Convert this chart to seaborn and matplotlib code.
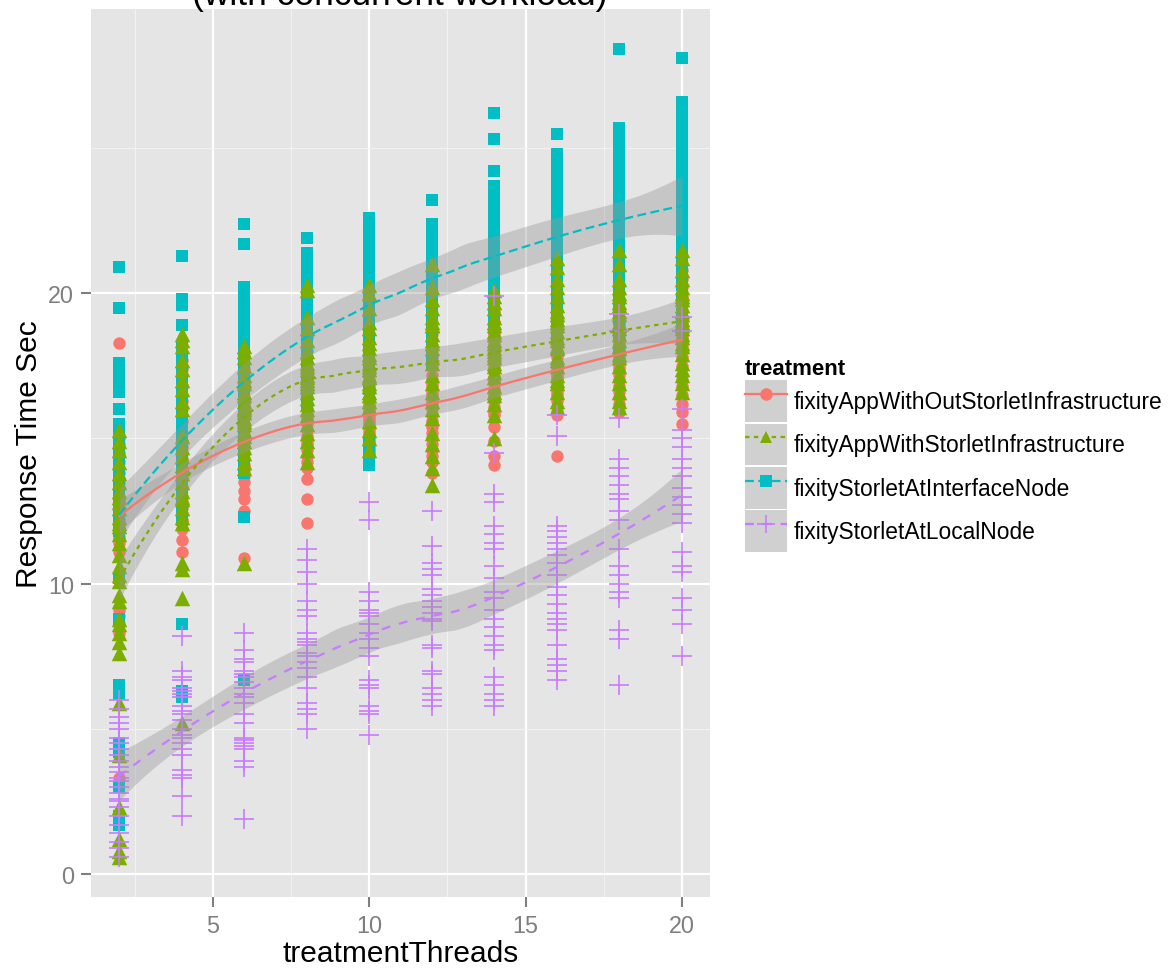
import numpy as np
import pandas as pd
import matplotlib
matplotlib.use("Agg")
import matplotlib.pyplot as plt
import seaborn as sns
from matplotlib.lines import Line2D
from matplotlib.patches import Patch

# x values (threads) and treatment names
threads = [2, 4, 6, 8, 10, 12, 14, 16, 18, 20]
treatments = [
    "fixityAppWithOutStorletInfrastructure",
    "fixityAppWithStorletInfrastructure",
    "fixityStorletAtInterfaceNode",
    "fixityStorletAtLocalNode",
]

# response times, one list per thread count
without_storlet = [
    [18.3, 15.0, 14.8, 14.5, 14.2, 13.8, 13.5, 13.3, 13.0, 12.8, 12.6, 12.4, 12.2,
     12.0, 11.9, 11.6, 11.4, 11.1, 12.9, 13.6, 9.1, 8.9, 8.6, 8.3, 3.3],
    [17.7, 17.4, 16.8, 16.3, 16.0, 15.6, 15.2, 14.9, 14.7, 14.5, 14.2, 14.0, 13.8,
     13.6, 13.3, 13.0, 12.8, 12.6, 12.4, 12.2, 11.9, 11.5, 11.1, 13.9, 14.3],
    [17.8, 17.4, 17.0, 16.7, 16.4, 16.2, 16.0, 15.8, 15.7, 15.5, 15.3, 15.1, 14.9,
     14.7, 14.5, 14.3, 14.1, 13.9, 13.7, 13.5, 13.2, 12.9, 12.5, 10.9, 16.9],
    [18.5, 18.0, 17.6, 17.3, 17.0, 16.8, 16.6, 16.4, 16.2, 16.0, 15.8, 15.7, 15.5,
     15.3, 15.1, 14.9, 14.8, 14.6, 14.4, 14.2, 14.0, 13.6, 12.9, 12.1, 16.9],
    [17.4, 17.2, 17.0, 16.8, 16.6, 16.4, 16.2, 16.0, 15.9, 15.8, 15.7, 15.6, 15.5,
     15.4, 15.3, 15.2, 15.1, 15.0, 14.9, 14.8, 14.7, 14.6, 14.5, 14.4, 16.1],
    [18.6, 18.2, 17.8, 17.5, 17.2, 17.0, 16.8, 16.6, 16.5, 16.4, 16.3, 16.2, 16.1,
     16.0, 15.8, 15.6, 15.4, 15.2, 15.0, 14.8, 14.6, 14.4, 14.2, 13.8, 16.9],
    [19.4, 19.0, 18.6, 18.3, 18.0, 17.8, 17.6, 17.5, 17.3, 17.1, 16.9, 16.7, 16.5,
     16.3, 16.1, 15.9, 15.8, 15.4, 14.9, 14.4, 14.1, 17.0, 16.6, 18.2, 16.4],
    [19.8, 19.4, 19.0, 18.7, 18.4, 18.2, 18.0, 17.8, 17.6, 17.4, 17.3, 17.1, 16.9,
     16.7, 16.5, 16.3, 16.1, 15.9, 15.8, 14.4, 17.5, 17.0, 18.5, 17.2, 16.6],
    [20.3, 20.0, 19.7, 19.4, 19.1, 18.9, 18.7, 18.5, 18.3, 18.1, 17.9, 17.8, 17.6,
     17.4, 17.2, 17.0, 16.8, 16.6, 16.4, 16.2, 15.9, 18.0, 18.4, 17.5, 19.0],
    [20.8, 20.5, 20.2, 19.9, 19.6, 19.4, 19.2, 19.0, 18.8, 18.6, 18.4, 18.2, 18.0,
     17.8, 17.5, 17.2, 17.0, 16.8, 16.5, 16.2, 15.9, 15.5, 19.8, 18.9, 18.5],
]

with_storlet = [
    [15.3, 14.2, 13.2, 12.8, 12.6, 12.1, 12.0, 11.4, 11.0, 10.6, 10.3, 10.1, 9.6,
     9.4, 8.8, 8.6, 8.3, 8.0, 7.6, 5.9, 4.1, 2.3, 1.2, 0.8, 0.6, 14.6, 13.8, 13.5,
     11.7, 12.3, 14.9, 13.0],
    [18.6, 18.4, 18.2, 17.7, 17.4, 17.0, 16.7, 16.3, 16.0, 15.1, 14.7, 14.1, 13.8,
     13.5, 13.2, 12.9, 12.6, 12.3, 12.1, 10.7, 10.5, 9.5, 5.2, 14.4, 13.0],
    [18.2, 18.0, 17.8, 17.5, 17.2, 16.9, 16.6, 16.3, 16.0, 15.7, 15.5, 15.3, 15.1,
     14.9, 14.7, 14.5, 14.2, 10.7, 16.1, 15.9, 16.5, 15.6, 17.0, 14.0, 15.2],
    [20.3, 20.1, 18.0, 17.8, 17.6, 17.4, 17.2, 17.0, 16.8, 16.6, 16.4, 16.2, 16.0,
     15.8, 15.5, 15.2, 14.9, 14.6, 14.2, 18.4, 18.8, 19.2, 17.5, 16.9, 17.1],
    [20.3, 20.0, 19.5, 18.8, 18.5, 18.1, 17.9, 17.6, 17.4, 17.1, 16.9, 16.6, 16.3,
     16.1, 15.6, 15.3, 15.0, 14.6, 17.8, 18.3, 17.2, 16.8, 19.0, 17.5, 16.5],
    [21.0, 19.5, 19.2, 18.9, 18.6, 18.3, 18.1, 17.8, 17.6, 17.2, 16.9, 16.6, 16.3,
     16.0, 15.7, 15.2, 14.8, 14.4, 14.0, 13.4, 19.8, 20.2, 18.4, 18.9, 19.0],
    [20.1, 19.9, 19.7, 19.5, 19.2, 18.9, 18.7, 18.4, 18.1, 17.8, 17.5, 17.1, 16.8,
     16.5, 16.2, 15.8, 15.0, 18.3, 18.6, 19.0, 17.9, 17.3, 18.0, 16.6, 17.6],
    [21.2, 20.9, 20.2, 19.9, 19.6, 19.3, 19.1, 18.7, 18.4, 18.1, 17.8, 17.5, 17.2,
     16.9, 16.6, 16.3, 16.1, 18.9, 19.0, 18.5, 18.2, 17.7, 20.5, 19.4, 17.0],
    [21.5, 21.0, 20.5, 20.2, 19.9, 19.6, 19.3, 18.9, 18.6, 18.1, 17.8, 17.5, 17.2,
     16.9, 16.6, 16.3, 16.1, 19.0, 18.8, 18.4, 20.0, 19.4, 18.2, 17.9, 19.7],
    [21.5, 21.2, 20.5, 20.2, 19.9, 19.6, 19.3, 19.1, 18.8, 18.5, 18.2, 17.9, 17.6,
     17.2, 16.9, 16.6, 20.8, 19.4, 18.9, 19.0, 18.6, 20.0, 17.4, 18.3, 19.8],
]

interface_node = [
    [20.9, 19.5, 17.6, 17.3, 17.0, 16.6, 16.0, 15.5, 15.2, 14.8, 14.4, 14.0, 13.6,
     13.2, 12.8, 12.4, 12.0, 11.8, 10.2, 8.8, 6.5, 6.2, 4.5, 4.2, 3.0, 2.0, 1.7,
     15.0, 14.6, 13.4, 12.6, 15.3, 14.2],
    [21.3, 19.8, 19.6, 18.9, 18.2, 17.9, 17.6, 17.3, 17.0, 16.7, 16.4, 16.1, 15.8,
     15.5, 15.2, 14.9, 14.6, 14.3, 14.0, 13.7, 13.4, 13.1, 12.8, 12.5, 12.2, 8.6,
     6.3, 6.1],
    [22.4, 21.7, 20.2, 19.9, 19.5, 19.2, 18.9, 18.6, 18.3, 18.0, 17.7, 17.4, 17.1,
     16.8, 16.5, 16.2, 15.9, 15.6, 15.3, 15.0, 14.7, 14.4, 14.1, 13.8, 12.3, 6.7,
     19.0, 18.2],
    [21.9, 21.4, 21.1, 20.8, 20.5, 20.2, 19.9, 19.5, 19.2, 18.8, 18.5, 18.2, 17.9,
     17.6, 17.3, 17.0, 16.7, 16.4, 16.2, 19.0, 18.0, 19.7, 20.0],
    [22.6, 22.3, 22.0, 21.7, 21.4, 21.1, 20.8, 20.5, 20.3, 20.0, 19.7, 19.4, 19.1,
     18.8, 18.5, 18.2, 17.9, 17.6, 17.3, 16.7, 14.8, 14.4, 14.1, 21.0, 20.6, 19.9],
    [23.2, 22.4, 22.1, 21.8, 21.5, 21.2, 20.9, 20.6, 20.3, 20.0, 19.7, 19.4, 19.1,
     18.8, 18.5, 18.2, 17.9, 17.6, 21.0, 20.5, 21.6, 22.0, 19.9],
    [26.2, 25.3, 24.2, 23.7, 23.3, 23.0, 22.7, 22.4, 22.1, 21.8, 21.5, 21.2, 20.9,
     20.6, 20.3, 20.0, 19.7, 19.4, 19.1, 18.8, 21.0, 22.0, 20.5],
    [25.5, 24.8, 24.4, 24.0, 23.6, 23.3, 23.0, 22.7, 22.4, 22.1, 21.8, 21.5, 21.2,
     20.9, 20.6, 20.3, 20.0, 19.7, 19.4, 19.1, 18.8, 18.5, 22.0, 21.0],
    [28.4, 25.7, 25.3, 24.9, 24.5, 24.1, 23.9, 23.6, 23.3, 23.0, 22.7, 22.4, 22.1,
     21.8, 21.5, 21.2, 20.9, 20.7, 20.3, 19.9, 19.5, 19.1, 18.6, 18.0, 22.9, 23.5],
    [28.1, 26.6, 26.3, 26.0, 25.6, 25.3, 24.9, 24.6, 24.3, 24.0, 23.7, 23.4, 23.1,
     22.8, 22.5, 22.2, 21.9, 21.6, 21.3, 21.0, 20.6, 20.3, 19.8, 19.3, 18.9],
]

local_node = [
    [6.0, 5.7, 5.4, 5.2, 5.0, 4.7, 4.5, 4.3, 4.1, 3.9, 3.7, 3.5, 3.3, 3.2, 3.0,
     2.8, 2.6, 2.5, 2.3, 2.0, 1.7, 1.4, 1.1, 0.9, 0.6],
    [8.2, 7.0, 6.8, 6.7, 6.4, 6.3, 6.2, 6.1, 5.8, 5.6, 5.5, 5.3, 5.0, 4.8, 4.7,
     4.5, 4.3, 4.1, 3.6, 3.4, 3.3, 2.7, 2.0],
    [8.3, 7.7, 7.4, 7.3, 7.0, 6.9, 6.8, 6.6, 6.4, 6.2, 6.1, 5.9, 5.5, 5.2, 4.7,
     4.6, 4.5, 4.4, 4.3, 3.9, 3.7, 1.9],
    [11.2, 10.8, 10.4, 10.0, 9.4, 9.1, 8.9, 8.3, 8.1, 7.9, 7.6, 7.3, 7.1, 6.8,
     6.4, 5.9, 5.7, 5.5, 5.0, 8.0, 7.5],
    [12.8, 12.2, 9.7, 9.4, 9.1, 8.9, 8.3, 8.1, 7.8, 7.5, 6.7, 6.5, 6.4, 5.8, 5.6,
     5.5, 4.8, 8.6, 9.0],
    [12.5, 11.3, 10.7, 10.5, 10.3, 9.8, 9.6, 9.4, 9.0, 8.8, 8.7, 7.9, 7.8, 7.0,
     6.9, 6.4, 6.2, 6.0, 5.8, 9.2],
    [19.9, 14.5, 13.1, 12.8, 12.0, 11.7, 11.4, 11.2, 10.6, 10.2, 9.7, 9.1, 8.8,
     8.5, 8.2, 7.9, 7.7, 6.8, 6.5, 6.2, 6.0, 5.8, 9.5],
    [15.8, 15.1, 12.0, 11.8, 11.6, 11.4, 11.2, 10.7, 9.9, 9.6, 9.3, 9.0, 8.8, 8.6,
     8.4, 7.9, 7.4, 7.2, 7.0, 6.7, 10.3, 11.0],
    [19.3, 18.7, 15.7, 14.3, 14.0, 13.7, 13.4, 13.1, 12.9, 12.2, 11.2, 10.6, 10.3,
     10.0, 9.7, 9.5, 8.4, 8.1, 6.5, 12.5],
    [19.2, 18.7, 16.0, 15.3, 15.0, 14.7, 14.3, 14.0, 13.7, 13.3, 13.0, 12.7, 12.4,
     12.1, 11.1, 10.6, 10.4, 9.5, 9.1, 8.6, 7.5],
]

palette = ["#F8766D", "#7CAE00", "#00BFC4", "#C77CFF"]
markers = ["o", "^", "s", "+"]
sizes = [80, 125, 75, 190]
dash_list = ["", (2, 2), (4, 2), (4, 4)]

# long table
rows = []
for name, series in zip(treatments, [without_storlet, with_storlet, interface_node, local_node]):
    for t, vals in zip(threads, series):
        for v in vals:
            rows.append((t, v, name))
data = pd.DataFrame(rows, columns=["treatmentThreads", "ResponseTimeSec", "treatment"])


# loess like ggplot (degree 2, span 0.75) with 95% band
def loess_rows(x, pts, span=0.75):
    n = len(x)
    q = int(np.floor(n * span))
    out = []
    for x0 in pts:
        d = np.abs(x - x0)
        h = np.sort(d)[q - 1]
        w = np.clip(1 - (d / h) ** 3, 0, None) ** 3
        X = np.column_stack([np.ones(n), x - x0, (x - x0) ** 2])
        XtW = X.T * w
        out.append(np.linalg.solve(XtW @ X, XtW)[0])
    return np.array(out)


grid = np.linspace(min(threads), max(threads), 80)
fits = []
for name in treatments:
    sub = data[data["treatment"] == name]
    x = sub["treatmentThreads"].to_numpy(float)
    y = sub["ResponseTimeSec"].to_numpy(float)
    L_data = loess_rows(x, x)
    resid = y - L_data @ y
    sigma2 = (resid ** 2).sum() / (len(y) - np.trace(L_data))
    L_grid = loess_rows(x, grid)
    fit = L_grid @ y
    se = np.sqrt(sigma2 * (L_grid ** 2).sum(axis=1))
    fits.append(pd.DataFrame({"x": grid, "fit": fit, "lo": fit - 1.97 * se,
                              "hi": fit + 1.97 * se, "treatment": name}))
fit_df = pd.concat(fits, ignore_index=True)

plt.rcParams["font.family"] = ["Liberation Sans", "DejaVu Sans"]

fig = plt.figure(figsize=(11.75, 9.7), dpi=100)
ax = fig.add_axes([91 / 1175, 1 - 898 / 970, 619 / 1175, 888 / 970])
ax.set_facecolor("#E5E5E5")

# points: drawn red, cyan, green, purple (as they stack in the picture)
for i in [0, 2, 1, 3]:
    sub = data[data["treatment"] == treatments[i]]
    if markers[i] == "+":
        sns.scatterplot(data=sub, x="treatmentThreads", y="ResponseTimeSec", ax=ax,
                        color=palette[i], marker="+", s=sizes[i], linewidth=1.2,
                        legend=False, zorder=3)
    else:
        sns.scatterplot(data=sub, x="treatmentThreads", y="ResponseTimeSec", ax=ax,
                        color=palette[i], marker=markers[i], s=sizes[i], linewidth=0,
                        legend=False, zorder=3)

# smooth bands and lines
for i, name in enumerate(treatments):
    f = fit_df[fit_df["treatment"] == name]
    ax.fill_between(f["x"], f["lo"], f["hi"], color="#999999", alpha=0.4,
                    linewidth=0, zorder=4)
sns.lineplot(data=fit_df, x="x", y="fit", hue="treatment", style="treatment",
             hue_order=treatments, style_order=treatments, palette=palette,
             dashes=dict(zip(treatments, dash_list)), linewidth=1.6, ax=ax,
             legend=False, zorder=5)

# ggplot style limits (5% expansion)
yall = data["ResponseTimeSec"]
xr = max(threads) - min(threads)
yr = yall.max() - yall.min()
ax.set_xlim(min(threads) - 0.05 * xr, max(threads) + 0.05 * xr)
ax.set_ylim(yall.min() - 0.05 * yr, yall.max() + 0.05 * yr)

ax.set_xticks([5, 10, 15, 20])
ax.set_xticks([2.5, 7.5, 12.5, 17.5], minor=True)
ax.set_yticks([0, 10, 20])
ax.set_yticks([5, 15, 25], minor=True)
ax.grid(which="major", color="white", linewidth=1.6)
ax.grid(which="minor", color="#F2F2F2", linewidth=0.8)
ax.set_axisbelow(True)
for sp in ax.spines.values():
    sp.set_visible(False)
ax.tick_params(which="major", length=7, width=1.5, color="#7F7F7F",
               labelcolor="#7F7F7F", labelsize=16.8, pad=5)
ax.tick_params(which="minor", length=0)

ax.set_xlabel("treatmentThreads", fontsize=21.5, labelpad=2)
ax.set_ylabel("Response Time Sec", fontsize=21.5, labelpad=4)

fig.text(400 / 1175, 1 - 5 / 970, "(with concurrent workload)", fontsize=25.5,
         ha="center", va="baseline")

# legend with grey key boxes
handles = []
for i in range(4):
    key = Patch(facecolor="#D0D0D0", edgecolor="none")
    ln = Line2D([], [], color=palette[i], marker=markers[i],
                linestyle="-" if i == 0 else (0, dash_list[i]),
                markersize=9 if markers[i] != "+" else 13, linewidth=1.6,
                markeredgewidth=0 if markers[i] != "+" else 1.2)
    handles.append((key, ln))
leg = fig.legend(handles, treatments, loc="upper left",
                 bbox_to_anchor=(729 / 1175, 1 - 343 / 970), frameon=False,
                 title="treatment", fontsize=16.4, handlelength=1.85,
                 handleheight=2.45, labelspacing=0.06, handletextpad=0.3,
                 borderpad=0.2)
leg.get_title().set_fontweight("bold")
leg.get_title().set_fontsize(16)
leg._legend_box.align = "left"

fig.savefig("out.png", dpi=100)
